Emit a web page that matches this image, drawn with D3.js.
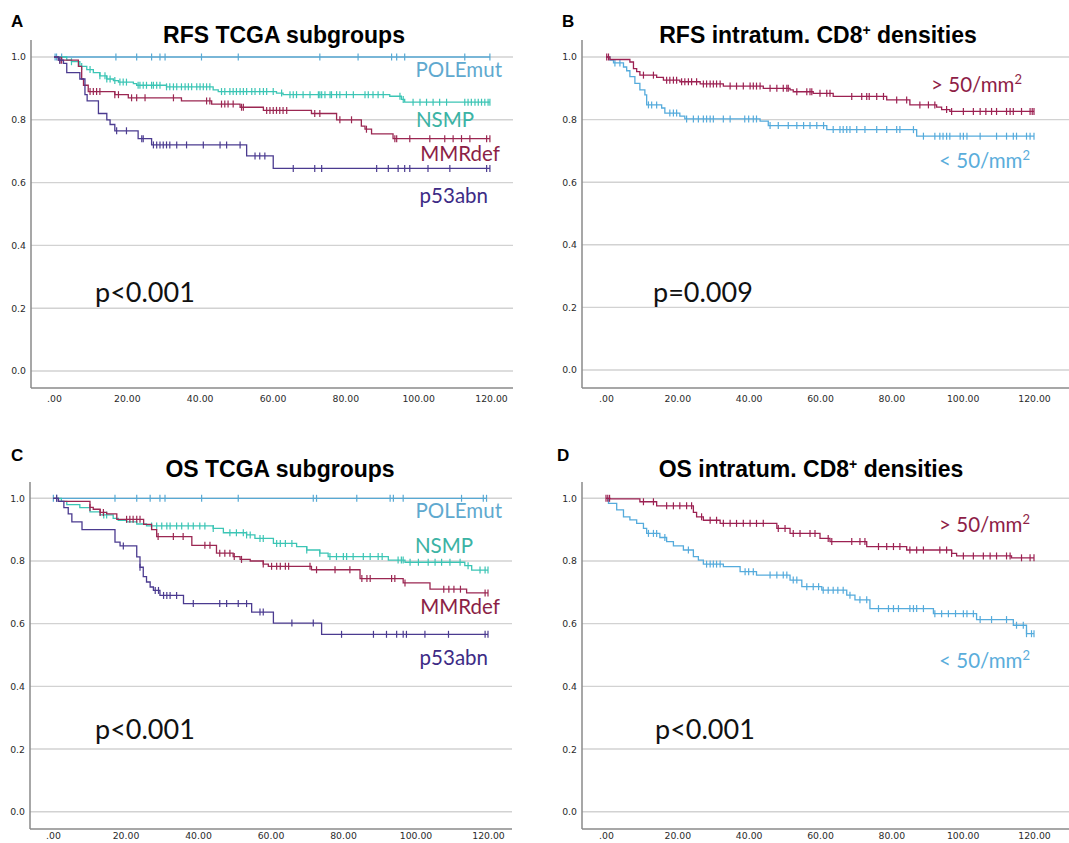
<!DOCTYPE html>
<html>
<head>
<meta charset="utf-8">
<script src="https://cdn.jsdelivr.net/npm/d3@7"></script>
<style>
body{margin:0;background:#fff}
svg{display:block}
</style>
</head>
<body>
<svg id="fig" width="1069" height="843"></svg>
<script>
// Kaplan-Meier curves: steps = [months, survival after drop], cens = censoring times
var xTicks = [0, 20, 40, 60, 80, 100, 120];
var yTicks = [0, 0.2, 0.4, 0.6, 0.8, 1.0];

// A - RFS TCGA subgroups
var rfsPoleSteps = [];
var rfsPoleCens = [0.3, 0.7, 2.1, 17.0, 22.7, 26.8, 29.1, 30.5, 40.5, 50.6, 73.0, 83.5, 92.7, 94.1, 96.3, 112.8, 119.7];
var rfsNsmpSteps = [[3.5, 0.99], [4.8, 0.985], [7.1, 0.97], [9.0, 0.96], [10.8, 0.95], [12.6, 0.94], [14.5, 0.93], [16.3, 0.925],
  [17.7, 0.92], [21.8, 0.915], [22.7, 0.91], [30.9, 0.905], [43.7, 0.895], [45.1, 0.89], [61.1, 0.885], [62.9, 0.88],
  [92.2, 0.875], [95.4, 0.865], [96.3, 0.856]];
var rfsNsmpCens = [4.8, 7.6, 9.9, 12.6, 14.0, 14.5, 15.4, 16.7, 18.1, 19.0, 19.9, 23.1, 23.6, 24.5, 25.4, 26.8, 27.3, 28.2, 29.1,
  30.9, 31.8, 32.8, 33.7, 35.0, 36.0, 36.9, 37.8, 39.2, 40.1, 41.0, 41.9, 42.8, 46.0, 46.9, 48.3, 49.2, 50.1, 51.1, 52.0, 52.9,
  54.3, 55.2, 56.5, 57.5, 58.4, 60.2, 62.5, 64.8, 65.7, 66.6, 68.4, 70.3, 72.6, 73.0, 73.5, 74.4, 75.8, 76.2, 77.6, 78.5, 80.3,
  82.2, 85.4, 86.3, 87.6, 89.0, 90.4, 95.0, 95.9, 98.6, 100.5, 102.3, 104.1, 105.9, 107.8, 112.8, 113.7, 114.6, 115.6, 116.5,
  117.4, 118.3, 119.2, 119.7];
var rfsMmrSteps = [[1.2, 0.99], [6.7, 0.97], [7.6, 0.93], [8.1, 0.91], [9.4, 0.89], [16.7, 0.88], [20.4, 0.87], [35.0, 0.86],
  [43.3, 0.85], [51.1, 0.84], [57.5, 0.83], [70.7, 0.82], [77.6, 0.80], [84.4, 0.78], [85.4, 0.77], [87.2, 0.755], [93.1, 0.74]];
var rfsMmrCens = [1.6, 2.1, 9.9, 10.8, 11.7, 12.6, 16.7, 17.7, 21.3, 22.7, 25.0, 32.8, 41.9, 42.8, 46.0, 46.9, 47.8, 49.2, 51.5,
  52.0, 58.4, 59.3, 60.2, 61.1, 62.0, 62.9, 63.9, 71.6, 73.0, 78.5, 81.7, 85.8, 93.6, 94.1, 97.7, 103.2, 107.3, 109.6, 111.9,
  114.2, 118.8, 119.7];
var rfsP53Steps = [[1.2, 0.99], [2.6, 0.98], [3.5, 0.95], [7.1, 0.93], [8.5, 0.88], [9.1, 0.86], [12.2, 0.82], [14.5, 0.80],
  [15.4, 0.785], [16.7, 0.765], [23.1, 0.74], [26.8, 0.72], [52.9, 0.685], [60.2, 0.645]];
var rfsP53Cens = [1.6, 17.2, 19.9, 24.1, 24.5, 27.3, 28.2, 29.1, 30.0, 30.9, 31.8, 33.7, 36.4, 41.0, 45.6, 47.4, 51.1, 55.2,
  56.5, 57.9, 65.7, 71.6, 73.5, 88.6, 91.8, 94.5, 96.3, 97.7, 102.7, 108.7, 118.8, 119.7];

// B - RFS intratumoral CD8+ densities
var rfsHiSteps = [[1.1, 0.992], [6.7, 0.984], [7.7, 0.963], [8.6, 0.953], [9.5, 0.942], [14.2, 0.935], [16.1, 0.926],
  [20.7, 0.921], [26.4, 0.914], [32.9, 0.907], [44.1, 0.90], [51.6, 0.895], [52.5, 0.889], [58.1, 0.884], [63.7, 0.874],
  [78.7, 0.863], [85.2, 0.847], [92.7, 0.84], [94.1, 0.832], [96.4, 0.826]];
var rfsHiCens = [0.2, 0.7, 10.5, 13.3, 17.0, 17.9, 18.9, 19.8, 21.2, 22.1, 23.1, 24.0, 25.4, 27.3, 28.2, 29.2, 30.1, 31.0, 32.0,
  34.8, 36.6, 38.5, 40.4, 41.3, 42.2, 43.2, 46.0, 47.9, 49.7, 50.7, 51.1, 53.5, 56.3, 57.2, 57.7, 60.0, 61.9, 62.8, 68.9, 71.7,
  73.1, 73.8, 75.9, 77.8, 81.5, 84.3, 88.0, 90.4, 92.2, 95.5, 96.9, 100.2, 103.0, 104.9, 106.5, 108.1, 109.5, 112.3, 113.3,
  114.2, 116.5, 118.9, 119.5, 120.0];
var rfsLoSteps = [[1.1, 0.99], [2.1, 0.981], [4.9, 0.968], [5.8, 0.956], [6.7, 0.937], [8.1, 0.916], [9.5, 0.895],
  [10.9, 0.879], [11.4, 0.847], [15.6, 0.837], [16.5, 0.821], [20.7, 0.811], [22.1, 0.802], [43.2, 0.795], [45.5, 0.781],
  [61.9, 0.768], [87.1, 0.747]];
var rfsLoCens = [2.5, 3.9, 11.9, 12.8, 14.2, 17.9, 18.9, 19.8, 22.6, 24.5, 25.9, 27.3, 28.2, 29.2, 30.1, 32.9, 34.8, 38.9, 40.0,
  41.3, 42.2, 46.0, 48.3, 51.1, 53.5, 55.4, 57.2, 59.1, 61.0, 63.7, 65.6, 66.5, 67.5, 68.4, 70.3, 72.6, 75.9, 78.7, 81.5, 82.4,
  86.2, 89.0, 92.2, 93.6, 94.5, 95.5, 96.4, 99.3, 100.2, 101.2, 104.9, 109.5, 112.3, 114.2, 115.1, 117.9, 118.9, 120.0];

// C - OS TCGA subgroups
var osPoleSteps = [];
var osPoleCens = [0.1, 1.0, 17.1, 23.1, 26.8, 29.5, 30.9, 41.0, 51.1, 71.8, 72.7, 83.8, 93.0, 93.9, 96.6, 112.7, 118.7, 119.6];
var osNsmpSteps = [[2.3, 0.99], [3.8, 0.98], [7.4, 0.97], [10.2, 0.957], [13.0, 0.947], [16.6, 0.936], [18.0, 0.93],
  [20.3, 0.925], [23.1, 0.918], [25.8, 0.912], [44.2, 0.904], [47.0, 0.89], [53.4, 0.883], [55.7, 0.872], [60.8, 0.856],
  [67.2, 0.846], [70.0, 0.835], [73.6, 0.825], [75.9, 0.814], [92.5, 0.803], [97.1, 0.796], [113.6, 0.785], [115.5, 0.771]];
var osNsmpCens = [14.0, 14.8, 27.2, 28.6, 30.0, 31.4, 32.3, 34.1, 35.5, 37.3, 38.7, 40.5, 41.9, 44.2, 48.8, 50.6, 52.5, 53.4,
  54.4, 57.1, 58.0, 61.7, 62.7, 64.1, 65.9, 70.0, 73.6, 76.4, 78.2, 80.1, 81.0, 82.8, 85.6, 87.5, 89.7, 90.8, 95.2, 96.1, 96.6,
  98.5, 100.8, 103.5, 105.4, 107.2, 109.5, 112.3, 114.5, 117.8, 119.2, 120.0];
var osMmrSteps = [[1.5, 0.99], [10.2, 0.971], [11.1, 0.965], [13.0, 0.955], [14.8, 0.95], [17.6, 0.933], [25.0, 0.917],
  [27.2, 0.90], [28.6, 0.878], [38.3, 0.85], [45.1, 0.825], [49.7, 0.814], [51.6, 0.805], [54.4, 0.80], [58.0, 0.79],
  [59.4, 0.783], [71.3, 0.772], [84.7, 0.744], [96.6, 0.73], [104.0, 0.71], [114.1, 0.698]];
var osMmrCens = [10.2, 13.0, 13.9, 20.3, 21.2, 22.1, 23.1, 24.0, 29.0, 33.2, 35.9, 41.9, 43.3, 46.0, 47.4, 48.8, 50.0, 52.0,
  58.0, 60.3, 61.7, 62.7, 64.1, 65.0, 70.9, 72.7, 77.8, 81.9, 85.2, 86.6, 87.5, 93.4, 94.3, 97.1, 107.8, 109.2, 110.6, 112.4,
  119.2, 120.0];
var osP53Steps = [[1.5, 0.99], [3.0, 0.97], [4.2, 0.95], [5.2, 0.925], [8.0, 0.90], [17.1, 0.86], [18.5, 0.848],
  [23.1, 0.813], [24.0, 0.78], [24.9, 0.75], [25.8, 0.733], [26.8, 0.717], [27.7, 0.706], [29.5, 0.69], [36.0, 0.664],
  [54.8, 0.637], [60.8, 0.602], [74.1, 0.566]];
var osP53Cens = [1.0, 19.4, 24.0, 28.2, 29.1, 30.5, 31.4, 32.3, 34.1, 38.7, 46.0, 47.9, 51.1, 53.4, 57.1, 58.0, 65.9, 71.8,
  79.6, 88.4, 92.0, 94.8, 96.6, 97.5, 102.6, 109.1, 119.2, 120.0];

// D - OS intratumoral CD8+ densities
var osHiSteps = [[1.1, 0.998], [9.5, 0.989], [14.2, 0.976], [24.5, 0.955], [25.4, 0.941], [27.3, 0.93], [32.0, 0.92],
  [47.9, 0.904], [51.6, 0.888], [60.0, 0.872], [62.8, 0.862], [73.1, 0.846], [84.3, 0.835], [96.9, 0.824], [98.3, 0.816],
  [113.7, 0.81]];
var osHiCens = [0.0, 0.5, 1.0, 10.5, 13.3, 17.0, 18.9, 20.7, 22.6, 24.0, 26.8, 29.2, 31.0, 32.9, 34.8, 36.6, 38.5, 40.4, 42.2,
  44.1, 48.3, 50.2, 52.5, 54.4, 57.2, 58.6, 62.3, 63.3, 68.9, 71.2, 72.6, 76.4, 78.7, 80.6, 82.4, 85.2, 87.1, 89.0, 93.6, 95.5,
  96.9, 100.2, 103.0, 105.8, 107.7, 109.5, 112.3, 113.3, 116.5, 118.9, 120.0];
var osLoSteps = [[0.7, 0.984], [3.0, 0.963], [4.9, 0.941], [6.7, 0.931], [8.6, 0.92], [10.5, 0.904], [11.4, 0.888],
  [15.1, 0.875], [17.0, 0.862], [18.9, 0.848], [21.7, 0.835], [24.5, 0.814], [25.9, 0.803], [27.3, 0.79], [32.9, 0.782],
  [37.6, 0.766], [42.2, 0.755], [51.6, 0.739], [54.9, 0.718], [60.5, 0.707], [67.5, 0.691], [69.8, 0.676], [74.0, 0.648],
  [91.8, 0.632], [103.9, 0.613], [114.2, 0.595], [117.9, 0.568]];
var osLoCens = [11.9, 13.3, 14.2, 16.5, 23.1, 28.2, 29.2, 30.1, 31.0, 32.0, 39.0, 40.0, 41.3, 46.0, 47.9, 49.7, 50.7, 52.5,
  53.5, 56.3, 58.1, 59.6, 60.9, 62.3, 63.7, 65.0, 66.5, 68.4, 71.2, 73.1, 76.4, 79.2, 80.6, 82.0, 85.2, 86.2, 87.1, 89.0, 92.2,
  94.1, 96.0, 98.0, 100.2, 101.2, 103.0, 104.9, 108.1, 112.3, 115.1, 117.0, 117.9, 119.3, 120.0];

var col = {
  pole: "#57a9d4", poleTxt: "#5fa9cf",
  nsmp: "#3cc5b5", nsmpTxt: "#3bb3a4",
  mmr: "#9b2752", mmrTxt: "#8c1f46",
  p53: "#4b3b90", p53Txt: "#3d2b86",
  hi: "#9c2152", hiTxt: "#8e1e47",
  lo: "#55abdc", loTxt: "#5aaddb"
};

var panels = [
  { letter: "A", lx: 11, ly: 27, title: ["RFS TCGA subgroups"], tx: 284, ty: 43,
    axisX: 31, axisTop: 40, axisY: 388, gridEnd: 513, x0: 54, x1: 491, y0: 371, y1: 57, xPad: 7,
    pval: "p<0.001", px: 95, py: 302,
    curves: [
      { steps: rfsPoleSteps, cens: rfsPoleCens, color: col.pole },
      { steps: rfsNsmpSteps, cens: rfsNsmpCens, color: col.nsmp },
      { steps: rfsMmrSteps, cens: rfsMmrCens, color: col.mmr },
      { steps: rfsP53Steps, cens: rfsP53Cens, color: col.p53 }
    ],
    labels: [
      { t: "POLEmut", c: col.poleTxt, x: 502, y: 77 },
      { t: "NSMP", c: col.nsmpTxt, x: 474, y: 127 },
      { t: "MMRdef", c: col.mmrTxt, x: 500, y: 161 },
      { t: "p53abn", c: col.p53Txt, x: 488, y: 203 }
    ] },
  { letter: "B", lx: 562, ly: 27, title: ["RFS intratum. CD8", "+", " densities"], tx: 818, ty: 43,
    axisX: 582, axisTop: 40, axisY: 388, gridEnd: 1069, x0: 606, x1: 1034, y0: 370, y1: 57, xPad: 7,
    pval: "p=0.009", px: 653, py: 302,
    curves: [
      { steps: rfsLoSteps, cens: rfsLoCens, color: col.lo },
      { steps: rfsHiSteps, cens: rfsHiCens, color: col.hi }
    ],
    labels: [
      { t: "> 50/mm", sup: "2", c: col.hiTxt, x: 1022, y: 92 },
      { t: "< 50/mm", sup: "2", c: col.loTxt, x: 1030, y: 168 }
    ] },
  { letter: "C", lx: 11, ly: 461, title: ["OS TCGA subgroups"], tx: 280, ty: 477,
    axisX: 30, axisTop: 482, axisY: 829, gridEnd: 512, x0: 53, x1: 488, y0: 811.7, y1: 498.3, xPad: 3.5,
    pval: "p<0.001", px: 95, py: 739,
    curves: [
      { steps: osPoleSteps, cens: osPoleCens, color: col.pole },
      { steps: osNsmpSteps, cens: osNsmpCens, color: col.nsmp },
      { steps: osMmrSteps, cens: osMmrCens, color: col.mmr },
      { steps: osP53Steps, cens: osP53Cens, color: col.p53 }
    ],
    labels: [
      { t: "POLEmut", c: col.poleTxt, x: 502, y: 518 },
      { t: "NSMP", c: col.nsmpTxt, x: 473, y: 553 },
      { t: "MMRdef", c: col.mmrTxt, x: 500, y: 614 },
      { t: "p53abn", c: col.p53Txt, x: 488, y: 665 }
    ] },
  { letter: "D", lx: 557, ly: 461, title: ["OS intratum. CD8", "+", " densities"], tx: 811, ty: 477,
    axisX: 582, axisTop: 482, axisY: 829, gridEnd: 1069, x0: 606, x1: 1034, y0: 811.7, y1: 498.3, xPad: 3.5,
    pval: "p<0.001", px: 655, py: 739,
    curves: [
      { steps: osLoSteps, cens: osLoCens, color: col.lo },
      { steps: osHiSteps, cens: osHiCens, color: col.hi }
    ],
    labels: [
      { t: "> 50/mm", sup: "2", c: col.hiTxt, x: 1030, y: 532 },
      { t: "< 50/mm", sup: "2", c: col.loTxt, x: 1030, y: 668 }
    ] }
];

var svg = d3.select("#fig");

function survAt(steps, t) {
  var s = 1;
  steps.forEach(function(d) { if (d[0] <= t) s = d[1]; });
  return s;
}

function xFmt(d) { return d === 0 ? ".00" : d3.format(".2f")(d); }

function drawPanel(p) {
  var g = svg.append("g");
  var x = d3.scaleLinear().domain([0, 120]).range([p.x0, p.x1]);
  var y = d3.scaleLinear().domain([0, 1]).range([p.y0, p.y1]);

  // grid lines
  g.selectAll(".grid").data(yTicks).enter().append("line")
    .attr("x1", p.axisX).attr("x2", p.gridEnd)
    .attr("y1", function(d) { return y(d); }).attr("y2", function(d) { return y(d); })
    .attr("stroke", "#d2d2d2").attr("stroke-width", 1.4);

  // axes
  var ya = g.append("g").attr("transform", "translate(" + p.axisX + ",0)")
    .call(d3.axisLeft(y).tickValues(yTicks).tickSize(0).tickPadding(5).tickFormat(d3.format(".1f")));
  var xa = g.append("g").attr("transform", "translate(0," + p.axisY + ")")
    .call(d3.axisBottom(x).tickValues(xTicks).tickSize(0).tickPadding(p.xPad).tickFormat(xFmt));
  [ya, xa].forEach(function(a) {
    a.select(".domain").remove();
    a.selectAll("text").attr("font-family", "'DejaVu Sans', sans-serif").attr("font-size", 9.3).attr("fill", "#2a2a2a");
  });
  g.append("line").attr("x1", p.axisX).attr("x2", p.axisX).attr("y1", p.axisTop).attr("y2", p.axisY)
    .attr("stroke", "#8a8a8a").attr("stroke-width", 1.5);
  g.append("line").attr("x1", p.axisX).attr("x2", p.gridEnd).attr("y1", p.axisY).attr("y2", p.axisY)
    .attr("stroke", "#8a8a8a").attr("stroke-width", 1.5);

  // KM curves
  var line = d3.line().curve(d3.curveStepAfter)
    .x(function(d) { return x(d[0]); }).y(function(d) { return y(d[1]); });
  p.curves.forEach(function(c) {
    var pts = [[0, 1]].concat(c.steps);
    var tEnd = d3.max(c.cens.concat(c.steps.map(function(d) { return d[0]; })));
    pts.push([tEnd, pts[pts.length - 1][1]]);
    g.append("path").datum(pts).attr("d", line)
      .attr("fill", "none").attr("stroke", c.color).attr("stroke-width", 1.3);
    g.selectAll(null).data(c.cens).enter().append("line")
      .attr("x1", function(d) { return x(d); }).attr("x2", function(d) { return x(d); })
      .attr("y1", function(d) { return y(survAt(c.steps, d)) - 3.5; })
      .attr("y2", function(d) { return y(survAt(c.steps, d)) + 3.5; })
      .attr("stroke", c.color).attr("stroke-width", 1.2);
  });

  // group labels
  p.labels.forEach(function(l) {
    var t = g.append("text").attr("x", l.x).attr("y", l.y).attr("text-anchor", "end")
      .attr("font-family", "Lato, 'Open Sans', sans-serif").attr("font-size", 20.5).attr("fill", l.c)
      .text(l.t);
    if (l.sup) t.append("tspan").attr("dy", -8).attr("font-size", 13).text(l.sup);
  });

  // p value
  g.append("text").attr("x", p.px).attr("y", p.py)
    .attr("font-family", "Lato, 'Open Sans', sans-serif").attr("font-size", 27).attr("fill", "#111")
    .text(p.pval);

  // panel letter and title
  g.append("text").attr("x", p.lx).attr("y", p.ly)
    .attr("font-family", "'Liberation Sans', Arial, sans-serif").attr("font-weight", "bold")
    .attr("font-size", 17).attr("fill", "#000").text(p.letter);
  var tt = g.append("text").attr("x", p.tx).attr("y", p.ty).attr("text-anchor", "middle")
    .attr("font-family", "'Liberation Sans', Arial, sans-serif").attr("font-weight", "bold")
    .attr("font-size", 23).attr("fill", "#000");
  tt.append("tspan").text(p.title[0]);
  if (p.title.length > 1) {
    tt.append("tspan").attr("dy", -8).attr("font-size", 14).text(p.title[1]);
    tt.append("tspan").attr("dy", 8).text(p.title[2]);
  }
}

panels.forEach(drawPanel);
</script>
</body>
</html>
